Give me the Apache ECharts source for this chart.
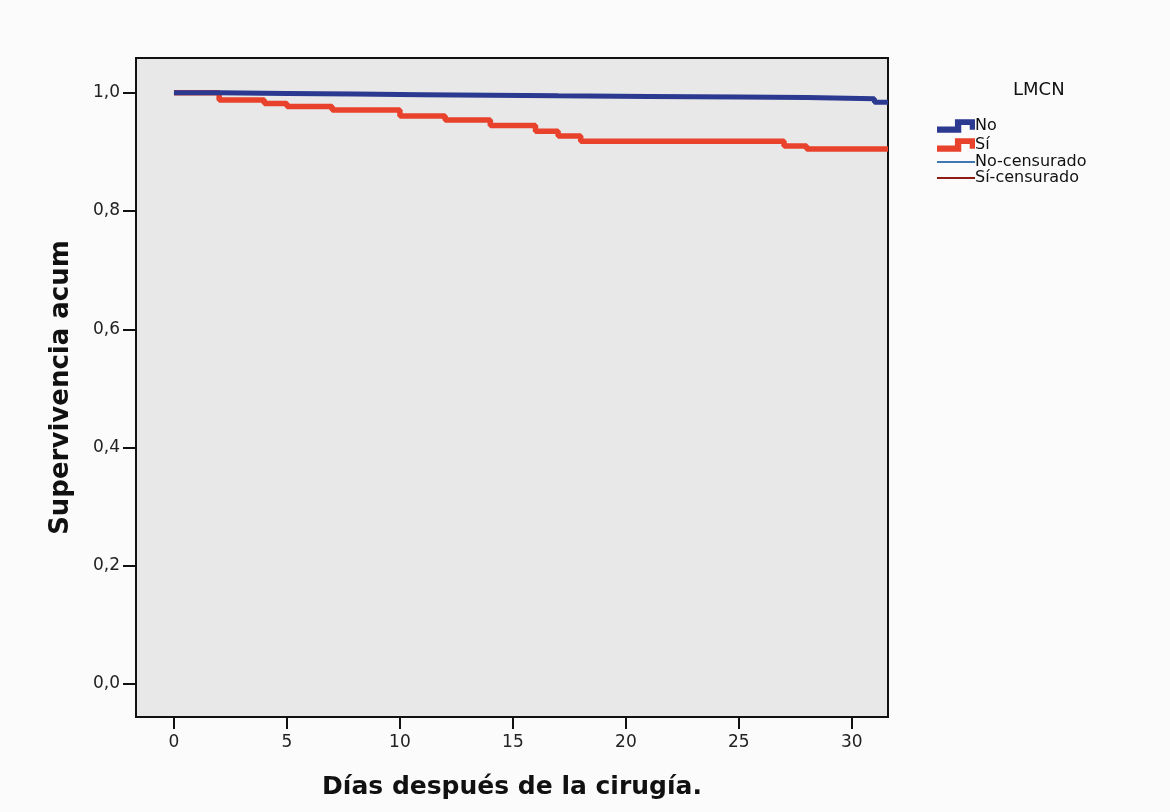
<!DOCTYPE html>
<html>
<head>
<meta charset="utf-8">
<script src="https://cdn.jsdelivr.net/npm/echarts@6/dist/echarts.min.js"></script>
<style>
html,body{margin:0;padding:0;background:#fbfbfb;}
#chart{width:1170px;height:812px;}
</style>
</head>
<body>
<div id="chart"></div>
<script>
// Kaplan-Meier step data (time in days, cumulative survival)
const redTimes = [0, 2, 4, 5, 7, 10, 12, 14, 16, 17, 18, 27, 28, 31.6];
const redSurv  = [1.0, 0.988, 0.982, 0.977, 0.971, 0.961, 0.954, 0.945, 0.935, 0.927, 0.918, 0.910, 0.905, 0.905];
const blueTimes = [0, 2, 5, 8, 11, 14, 17, 21, 25, 28, 31, 31.6];
const blueSurv  = [1.0, 0.999, 0.998, 0.997, 0.996, 0.995, 0.994, 0.993, 0.992, 0.990, 0.984, 0.984];
const xTicks = [0, 5, 10, 15, 20, 25, 30];
const yTicks = [0, 0.2, 0.4, 0.6, 0.8, 1.0];
const seriesNames = ['No', 'Sí', 'No-censurado', 'Sí-censurado'];

const zip = (a, b) => a.map((v, i) => [v, b[i]]);
const stepIcon = 'path://M0,7 L17,7 L17,0 L36,0 L36,10 L31,10 L31,5.5 L23,5.5 L23,13 L0,13 Z';
const font = '"DejaVu Sans", Verdana, sans-serif';

const chart = echarts.init(document.getElementById('chart'));
chart.setOption({
  backgroundColor: '#fbfbfb',
  animation: false,
  title: {
    text: 'LMCN', left: 1008, top: 76,
    textStyle: { fontFamily: font, fontSize: 18, fontWeight: 'normal', color: '#111' }
  },
  legend: [
    {
      data: [seriesNames[0], seriesNames[1]],
      orient: 'vertical', left: 932, top: 113,
      itemWidth: 38, itemHeight: 14, itemGap: 3, icon: stepIcon,
      textStyle: { fontFamily: font, fontSize: 16, color: '#111', padding: [0, 0, 0, -5] }
    },
    {
      data: [seriesNames[2], seriesNames[3]],
      orient: 'vertical', left: 932, top: 149,
      itemWidth: 38, itemHeight: 2, itemGap: 0, icon: 'rect',
      textStyle: { fontFamily: font, fontSize: 16, color: '#111', padding: [0, 0, 0, -5] }
    }
  ],
  grid: {
    left: 136, right: 282, top: 58, bottom: 95,
    show: true, backgroundColor: '#e8e8e8', borderColor: '#111', borderWidth: 2
  },
  xAxis: {
    type: 'value', min: -1.68, max: 31.6,
    name: 'Días después de la cirugía.', nameLocation: 'middle', nameGap: 58,
    nameTextStyle: { fontFamily: font, fontWeight: 'bold', fontSize: 25, color: '#111' },
    axisLine: { show: false, onZero: false },
    splitLine: { show: false },
    axisTick: { show: true, customValues: xTicks, length: 12, lineStyle: { color: '#111', width: 2 } },
    axisLabel: { customValues: xTicks, margin: 17, fontFamily: font, fontSize: 17, color: '#222' }
  },
  yAxis: {
    type: 'value', min: -0.056, max: 1.059,
    name: 'Supervivencia acum', nameLocation: 'middle', nameGap: 62, nameRotate: 90,
    nameTextStyle: { fontFamily: font, fontWeight: 'bold', fontSize: 26, color: '#111' },
    axisLine: { show: false, onZero: false },
    splitLine: { show: false },
    axisTick: { show: true, customValues: yTicks, length: 13, lineStyle: { color: '#111', width: 2 } },
    axisLabel: {
      customValues: yTicks, margin: 16, fontFamily: font, fontSize: 17, color: '#222',
      formatter: v => v.toFixed(1).replace('.', ',')
    }
  },
  series: [
    {
      name: seriesNames[0], type: 'line', step: 'end', symbol: 'none', z: 3,
      data: zip(blueTimes, blueSurv),
      color: '#2b3990', lineStyle: { color: '#2b3990', width: 5 }
    },
    {
      name: seriesNames[1], type: 'line', step: 'end', symbol: 'none', z: 2,
      data: zip(redTimes, redSurv),
      color: '#e8412c', lineStyle: { color: '#e8412c', width: 5.5 }
    },
    {
      name: seriesNames[2], type: 'line', symbol: 'none', data: [],
      color: '#3f78b0', lineStyle: { color: '#3f78b0', width: 1.5 }
    },
    {
      name: seriesNames[3], type: 'line', symbol: 'none', data: [],
      color: '#8e1b14', lineStyle: { color: '#8e1b14', width: 1.5 }
    }
  ]
});
</script>
</body>
</html>
